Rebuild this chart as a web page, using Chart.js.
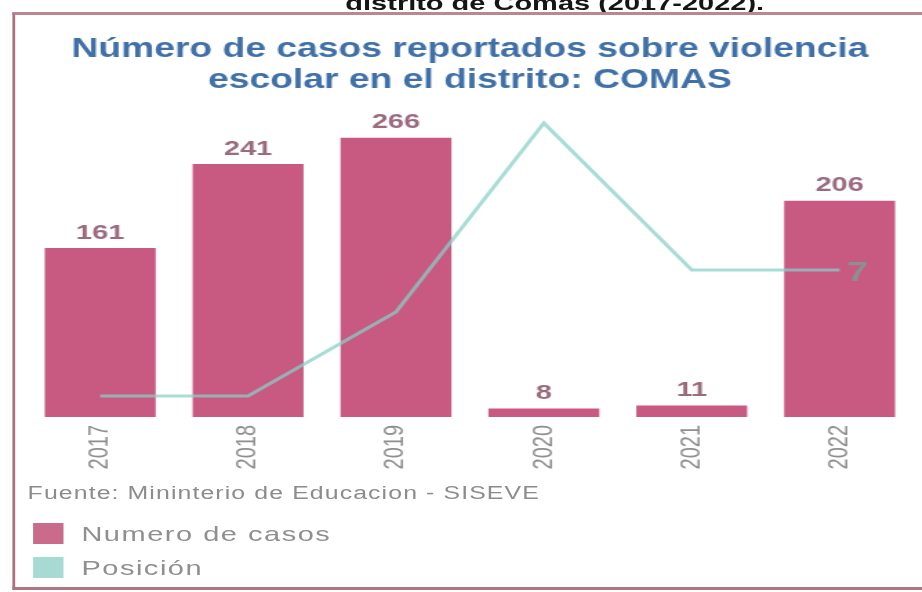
<!DOCTYPE html>
<html>
<head>
<meta charset="utf-8">
<script src="https://cdn.jsdelivr.net/npm/chart.js@4.4.1/dist/chart.umd.min.js"></script>
<style>
  html, body { margin: 0; padding: 0; background: #ffffff; width: 922px; height: 592px; overflow: hidden; }
  /* the scanned original is stretched horizontally; reproduce that with one uniform scale */
  #stage { position: absolute; left: 0; top: 0; width: 668px; height: 592px;
           transform: scaleX(1.38); transform-origin: 0 0;
           font-family: "Liberation Sans", Arial, sans-serif; }
  #caption { position: absolute; left: 230px; width: 344px; top: -8px; text-align: center;
             font-weight: bold; font-size: 21px; line-height: 21px; color: #151515; white-space: nowrap; }
  #frame { position: absolute; left: 9px; top: 12px; width: 720px; height: 578px; box-sizing: border-box;
           border-left: 2px solid #ad7080; border-top: 3px solid #bb8794; border-bottom: 3px solid #b07583; }
  #box { position: absolute; left: 0; top: 0; width: 668px; height: 480px; }
  #fuente { position: absolute; left: 20px; top: 484px; font-size: 18px; line-height: 18px; letter-spacing: 0.8px;
            color: #8c8c8c; white-space: nowrap; }
  #legend { position: absolute; left: 24px; top: 523px; }
  .item { display: flex; align-items: center; height: 21px; margin-bottom: 13px; }
  .sw { width: 22px; height: 21px; margin-right: 13px; }
  .tx { font-size: 21px; line-height: 21px; letter-spacing: 1.1px; color: #8f8f8f; white-space: nowrap; }
</style>
</head>
<body>
<div id="stage">
  <div id="caption">distrito de Comas (2017-2022).</div>
  <div id="frame"></div>
  <div id="box"><canvas id="c"></canvas></div>
  <div id="fuente"></div>
  <div id="legend"></div>
</div>
<script>
// ---- data ----
const years = ['2017', '2018', '2019', '2020', '2021', '2022'];
const numeroCasos = [161, 241, 266, 8, 11, 206];
const posicion = [1, 1, 5, 14, 7, 7];
const posicionEtiquetada = ['2022'];
const titulo = ['Número de casos reportados sobre violencia', 'escolar en el distrito: COMAS'];
const fuente = 'Fuente: Mininterio de Educacion - SISEVE';
const serieCasos = 'Numero de casos';
const seriePosicion = 'Posición';

const FONT = '"Liberation Sans", Arial, sans-serif';

const valueLabels = {
  id: 'valueLabels',
  afterDatasetsDraw(chart) {
    const ctx = chart.ctx;
    ctx.save();
    ctx.textBaseline = 'middle';
    const barMeta = chart.getDatasetMeta(0);
    ctx.font = 'bold 21px ' + FONT;
    ctx.fillStyle = '#9b6b7d';
    ctx.textAlign = 'center';
    barMeta.data.forEach((el, i) => {
      ctx.fillText(String(numeroCasos[i]), el.x, el.y - 15);
    });
    const lineMeta = chart.getDatasetMeta(1);
    ctx.font = 'bold 28px ' + FONT;
    ctx.fillStyle = '#8e8e8e';
    ctx.textAlign = 'left';
    lineMeta.data.forEach((el, i) => {
      if (posicionEtiquetada.includes(years[i])) ctx.fillText(String(posicion[i]), el.x + 5, el.y + 3);
    });
    ctx.restore();
  }
};

const chart = new Chart(document.getElementById('c'), {
  data: {
    labels: years,
    datasets: [
      {
        type: 'bar',
        label: serieCasos,
        data: numeroCasos,
        backgroundColor: '#c85a82',
        yAxisID: 'y',
        order: 2,
        barPercentage: 0.75,
        categoryPercentage: 1
      },
      {
        type: 'line',
        label: seriePosicion,
        data: posicion,
        borderColor: 'rgba(135,208,198,0.72)',
        backgroundColor: '#a6dad3',
        borderWidth: 3,
        pointRadius: 0,
        tension: 0,
        yAxisID: 'y1',
        order: 1
      }
    ]
  },
  options: {
    responsive: true,
    maintainAspectRatio: false,
    animation: false,
    layout: { padding: { left: 19, right: 6, top: 0, bottom: 7 } },
    plugins: {
      legend: { display: false },
      tooltip: { enabled: false },
      title: {
        display: true,
        text: titulo,
        color: '#3f70a8',
        font: { family: FONT, size: 27, weight: 'bold', lineHeight: '31px' },
        padding: { top: 34, bottom: 6 }
      }
    },
    scales: {
      x: {
        grid: { display: false, drawTicks: false },
        border: { display: false },
        ticks: {
          minRotation: 90, maxRotation: 90, padding: 8,
          color: '#8f8f8f',
          font: { family: FONT, size: 20 }
        },
        afterFit(scale) { scale.height = 56; }
      },
      y: { display: false, min: 0, max: 300 },
      y1: { display: false, position: 'right', min: 0, max: 15 }
    }
  },
  plugins: [valueLabels]
});

document.getElementById('fuente').textContent = fuente;
const legend = document.getElementById('legend');
chart.data.datasets.forEach(ds => {
  const item = document.createElement('div');
  item.className = 'item';
  const sw = document.createElement('span');
  sw.className = 'sw';
  sw.style.background = ds.type === 'bar' ? '#c96b8a' : ds.backgroundColor;
  const tx = document.createElement('span');
  tx.className = 'tx';
  tx.textContent = ds.label;
  item.appendChild(sw);
  item.appendChild(tx);
  legend.appendChild(item);
});
</script>
</body>
</html>
